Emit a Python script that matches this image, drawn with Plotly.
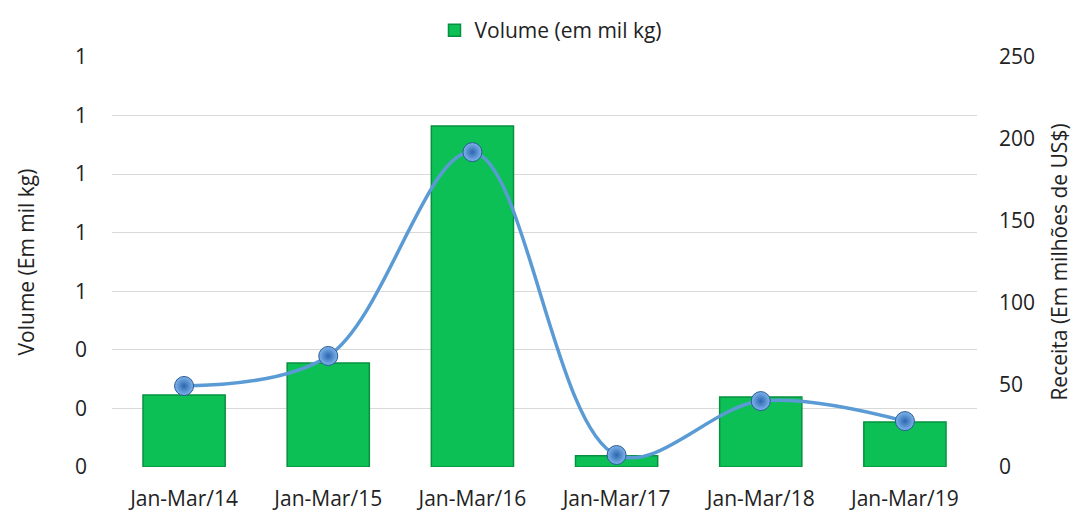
import plotly.graph_objects as go

categories = ["Jan-Mar/14", "Jan-Mar/15", "Jan-Mar/16", "Jan-Mar/17", "Jan-Mar/18", "Jan-Mar/19"]
volume = [0.246, 0.355, 1.164, 0.038, 0.239, 0.154]
receita = [49.4, 67.7, 192.0, 7.3, 40.2, 28.0]
left_ticks = [0, 0.2, 0.4, 0.6, 0.8, 1.0, 1.2, 1.4]
right_ticks = [0, 50, 100, 150, 200, 250]

FONT = "Open Sans"
FS = 21
fig = go.Figure()
fig.add_trace(go.Bar(
    x=categories, y=volume, name="Volume (em mil kg)",
    marker=dict(color="#0CC055", line=dict(color="#079040", width=1.5)),
    width=0.57, yaxis="y",
))
fig.add_trace(go.Scatter(
    x=categories, y=receita, name="Receita", showlegend=False,
    mode="lines+markers", yaxis="y2",
    line=dict(color="#5B9BD5", width=3.5, shape="spline", smoothing=1.0),
    marker=dict(size=19, color="#7FB4EC",
                gradient=dict(type="radial", color="#2C66AE"),
                line=dict(color="#2A5A92", width=1)),
    cliponaxis=False,
))
fig.update_layout(
    width=1073, height=513,
    margin=dict(l=112, r=96, t=57, b=46, autoexpand=False),
    paper_bgcolor="white", plot_bgcolor="white",
    font=dict(family=FONT, size=FS, color="#222222"),
    showlegend=True,
    legend=dict(orientation="h", x=0.5075, xanchor="center", xref="paper",
                y=1 - 10 / 513, yanchor="top", yref="container",
                font=dict(size=FS), bgcolor="rgba(0,0,0,0)"),
    xaxis=dict(showgrid=False, showline=False, ticks="", tickfont=dict(size=FS),
               ticklabelstandoff=17),
    yaxis=dict(range=[0, 1.4], tickvals=left_ticks, tickformat=".0f",
               showgrid=True, gridcolor="#D9D9D9", gridwidth=1, zeroline=False,
               ticks="", ticklabelstandoff=24, tickfont=dict(size=FS),
               title=dict(text="Volume (Em mil kg)", font=dict(size=FS), standoff=34)),
    yaxis2=dict(range=[0, 250], tickvals=right_ticks, overlaying="y", side="right",
                showgrid=False, zeroline=False, ticks="", ticklabelstandoff=21,
                tickfont=dict(size=FS),
                title=dict(text="Receita (Em milhões de US$)", font=dict(size=FS), standoff=18)),
)
fig.write_html("out.html", config={"displayModeBar": False})
with open("out.html", encoding="utf-8") as f:
    html = f.read()
html = html.replace("<body>", '<body style="margin:0;padding:0;">', 1)
with open("out.html", "w", encoding="utf-8") as f:
    f.write(html)
